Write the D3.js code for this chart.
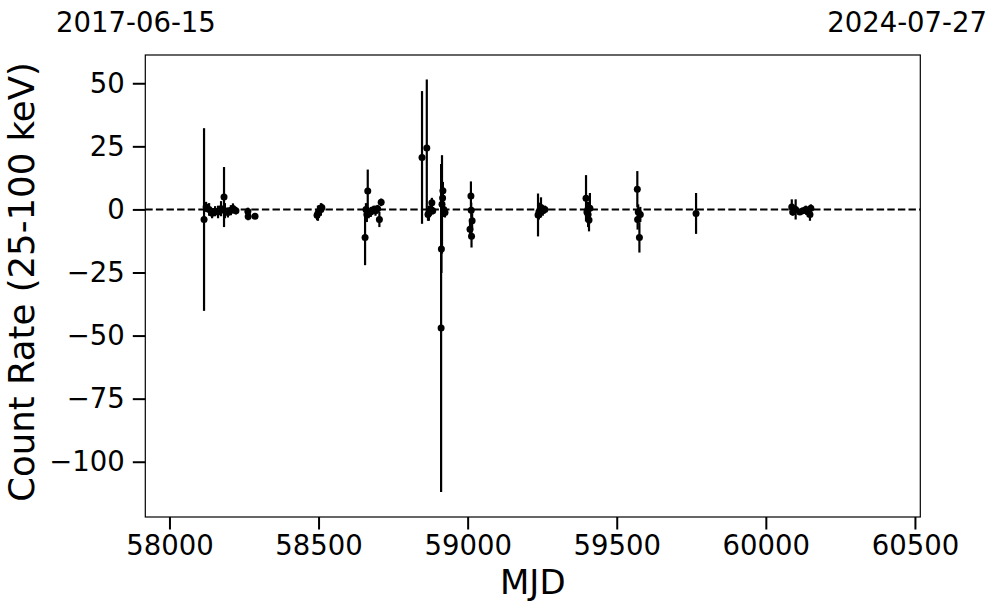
<!DOCTYPE html>
<html>
<head>
<meta charset="utf-8">
<script src="https://cdn.jsdelivr.net/npm/d3@7"></script>
<style>
html,body{margin:0;padding:0;background:#fff;}
svg{display:block;font-family:"DejaVu Sans",sans-serif;}
</style>
</head>
<body>
<svg id="chart" width="997" height="613"></svg>
<script>
// ---- data ----
const mjd = [
  58116,58123,58133,58143,58153,58163,58173,58183,58186,58196,58206,58213,58223,58263,58264,58287,
  58495,58498,58501,58508,58511,
  58656,58659,58662,58665,58668,58675,58685,58691,58698,58704,58710,
  58847,58863,58867,58870,58877,58880,58883,58911,58912,58914,58916,58917,58920,58924,
  59008,59011,59012,59013,59015,
  59236,59239,59242,59246,59252,59259,
  59397,59400,59403,59404,59407,59410,
  59569,59570,59572,59576,59579,
  59766,
  60087,60090,60100,60114,60124,60134,60141,60148,60151
];
const rate = [
  -4,1,0,-1.5,-0.7,-1,0.3,4.9,-0.5,-1.2,-0.3,0.4,-0.5,-0.8,-2.8,-2.7,
  -2.3,-1.5,-0.8,0,0.8,
  -11.1,0,-2,7.3,-1.5,-1,0,-0.5,0.3,-4,2.8,
  20.6,24.3,-2,-1.5,0,2.6,-0.5,-47,-15.7,2,4.5,7.4,0,-1.2,
  -7.9,5.3,-0.3,-10.6,-4.5,
  -2.2,-1,-0.3,0.8,-0.5,0,
  4.4,-1,0,-2,-4.2,0.5,
  8,-4,-1,-11.1,-2,
  -1.6,
  1,-1,0,-1,-0.5,0,-1,-2,0.5
];
const err = [
  36.2,2,2.5,2,2,2.5,3,11.9,3,2,2,2,1.5,1.5,1.5,1,
  2,3,2.5,2.5,1.5,
  11,2.5,3,8.5,2,2,1.5,2,1.5,3,1.5,
  26.3,27.2,2.5,3,2,2,1.5,65,9.5,19.5,4,3.5,3,2,
  3,5.8,3,4.5,3,
  8.5,3,3,4,2,1.5,
  9.2,3,3,5,4.5,6,
  7.2,4,3,6,3,
  8.1,
  3,1.5,4,1,1,1.5,2,2.5,1.5
];
const xTicks = [58000,58500,59000,59500,60000,60500];
const yTicks = [50,25,0,-25,-50,-75,-100];
const xLabel = "MJD";
const yLabel = "Count Rate (25-100 keV)";
const dateLeft = "2017-06-15";
const dateRight = "2024-07-27";

// ---- layout ----
const svg = d3.select("#chart");
const L = 145.3, R = 920.3, T = 55, B = 517;

const x = d3.scaleLinear().domain([57919, 60518]).range([L, R]);
const y = d3.scaleLinear().domain([-121.9, 61.2]).range([B, T]);

const pts = mjd.map((m,i)=>({m, r:rate[i], e:err[i]}));

const g = svg.append("g");

// zero dashed line
g.append("line")
  .attr("x1", L).attr("x2", R)
  .attr("y1", y(0)).attr("y2", y(0))
  .attr("stroke", "#000").attr("stroke-width", 2)
  .attr("stroke-dasharray", "7.4,3.2");

// error bars
g.selectAll("line.eb").data(pts).enter().append("line")
  .attr("class","eb")
  .attr("x1", d=>x(d.m)).attr("x2", d=>x(d.m))
  .attr("y1", d=>y(d.r + d.e)).attr("y2", d=>y(d.r - d.e))
  .attr("stroke", "#000").attr("stroke-width", 2.2);

// points
g.selectAll("circle").data(pts).enter().append("circle")
  .attr("cx", d=>x(d.m)).attr("cy", d=>y(d.r))
  .attr("r", 3.5).attr("fill", "#000");

// frame
svg.append("rect")
  .attr("x", L).attr("y", T).attr("width", R-L).attr("height", B-T)
  .attr("fill", "none").attr("stroke", "#000").attr("stroke-width", 1.2);

// axes
const xAxis = d3.axisBottom(x).tickValues(xTicks).tickFormat(d3.format("d"))
  .tickSize(12.5).tickPadding(6);
const gx = svg.append("g").attr("transform", `translate(0,${B})`).call(xAxis);
gx.select(".domain").remove();
gx.selectAll(".tick line").attr("stroke-width", 2);
gx.selectAll(".tick text").attr("font-size", 27.5).attr("fill","#000")
  .attr("font-family","DejaVu Sans");

const fmtY = d => d < 0 ? "\u2212" + Math.abs(d) : String(d);
const yAxis = d3.axisLeft(y).tickValues(yTicks).tickFormat(fmtY)
  .tickSize(12.5).tickPadding(8);
const gy = svg.append("g").attr("transform", `translate(${L},0)`).call(yAxis);
gy.select(".domain").remove();
gy.selectAll(".tick line").attr("stroke-width", 2);
gy.selectAll(".tick text").attr("font-size", 27.5).attr("fill","#000")
  .attr("font-family","DejaVu Sans");

// axis labels
svg.append("text")
  .attr("x", (L+R)/2).attr("y", 594)
  .attr("text-anchor","middle").attr("font-size", 34).attr("fill","#000")
  .text(xLabel);

svg.append("text")
  .attr("transform", "translate(34,282) rotate(-90)")
  .attr("text-anchor","middle").attr("font-size", 35.5).attr("fill","#000")
  .text(yLabel);

// top date labels
svg.append("text").attr("x", 56).attr("y", 32)
  .attr("text-anchor","start").attr("font-size", 27.5).attr("fill","#000")
  .text(dateLeft);
svg.append("text").attr("x", 987).attr("y", 32)
  .attr("text-anchor","end").attr("font-size", 27.5).attr("fill","#000")
  .text(dateRight);
</script>
</body>
</html>
